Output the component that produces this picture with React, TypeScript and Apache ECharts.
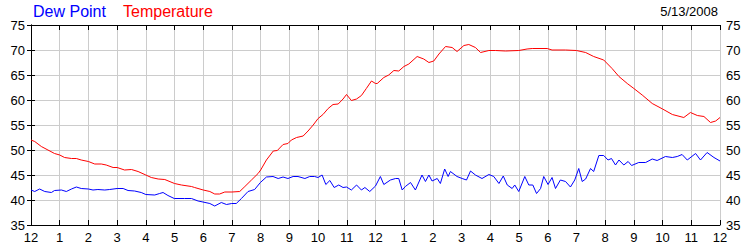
import React, { useEffect, useRef } from "react";
import * as echarts from "echarts";

const tempHours = [0, 0.13, 0.36, 0.59, 0.82, 1.0, 1.17, 1.41, 1.58, 1.75, 2.0, 2.22, 2.45, 2.62, 2.86, 3.0, 3.26, 3.5, 3.73, 4.0, 4.19, 4.43, 4.66, 5.0, 5.24, 5.59, 5.7, 6.0, 6.23, 6.4, 6.57, 6.75, 7.0, 7.27, 7.45, 7.68, 7.91, 8.0, 8.2, 8.44, 8.58, 8.78, 8.95, 9.07, 9.25, 9.48, 9.65, 9.83, 10.0, 10.17, 10.35, 10.52, 10.7, 10.87, 10.99, 11.16, 11.34, 11.51, 11.68, 11.86, 12.0, 12.06, 12.29, 12.46, 12.64, 12.81, 12.99, 13.16, 13.45, 13.68, 13.86, 14.03, 14.21, 14.44, 14.67, 14.84, 15.08, 15.25, 15.48, 15.66, 15.95, 16.18, 16.53, 16.99, 17.28, 17.46, 17.98, 18.15, 18.62, 19.0, 19.32, 19.6, 19.95, 20.24, 20.48, 20.77, 21.0, 21.29, 21.64, 22.0, 22.34, 22.74, 22.97, 23.21, 23.44, 23.67, 23.85, 24.0];
const tempValues = [52.0, 51.7, 50.7, 50.0, 49.3, 49.0, 48.5, 48.3, 48.3, 48.0, 47.7, 47.2, 47.2, 47.0, 46.5, 46.5, 46.0, 46.1, 45.7, 45.0, 44.5, 44.2, 44.1, 43.3, 43.0, 42.7, 42.5, 42.0, 41.7, 41.2, 41.2, 41.6, 41.6, 41.7, 42.7, 44.0, 45.3, 46.0, 48.0, 49.8, 49.9, 51.1, 51.3, 52.0, 52.5, 52.8, 53.8, 55.0, 56.3, 57.1, 58.3, 59.1, 59.2, 60.2, 61.1, 59.9, 60.2, 60.9, 62.3, 63.8, 63.3, 63.3, 64.5, 65.0, 65.9, 65.8, 66.7, 67.2, 68.7, 68.2, 67.5, 67.8, 69.2, 70.7, 70.5, 69.7, 70.9, 71.1, 70.5, 69.5, 69.9, 69.9, 69.8, 69.9, 70.2, 70.3, 70.3, 70.0, 70.0, 69.9, 69.5, 68.7, 68.0, 66.3, 64.7, 63.3, 62.3, 61.0, 59.3, 58.2, 57.1, 56.5, 57.5, 56.9, 56.7, 55.5, 55.8, 56.5];

const dewHours = [0, 0.13, 0.3, 0.48, 0.71, 0.82, 1.06, 1.23, 1.41, 1.58, 1.75, 2.0, 2.16, 2.33, 2.57, 2.74, 3.0, 3.21, 3.38, 3.61, 3.84, 4.0, 4.31, 4.48, 4.6, 4.77, 4.99, 5.35, 5.59, 5.82, 5.99, 6.23, 6.4, 6.63, 6.81, 6.99, 7.15, 7.33, 7.56, 7.79, 7.99, 8.2, 8.43, 8.61, 8.78, 8.95, 9.13, 9.3, 9.54, 9.71, 9.88, 10.0, 10.14, 10.27, 10.41, 10.56, 10.72, 10.87, 10.99, 11.16, 11.34, 11.51, 11.63, 11.8, 12.0, 12.17, 12.29, 12.52, 12.7, 12.81, 12.93, 13.04, 13.22, 13.39, 13.62, 13.74, 13.86, 13.97, 14.15, 14.26, 14.41, 14.53, 14.61, 14.84, 15.02, 15.17, 15.31, 15.48, 15.71, 15.95, 16.12, 16.3, 16.45, 16.59, 16.76, 16.85, 16.99, 17.2, 17.34, 17.48, 17.61, 17.75, 17.86, 18.01, 18.15, 18.27, 18.44, 18.62, 18.79, 18.94, 19.08, 19.2, 19.32, 19.49, 19.6, 19.78, 19.95, 20.1, 20.22, 20.36, 20.48, 20.65, 20.8, 20.92, 21.17, 21.41, 21.64, 21.81, 22.1, 22.34, 22.51, 22.68, 22.86, 23.15, 23.32, 23.55, 23.79, 24.0];
const dewValues = [42.0, 41.7, 42.2, 41.7, 41.5, 41.9, 42.0, 41.7, 42.2, 42.6, 42.3, 42.2, 42.0, 42.1, 42.0, 42.1, 42.3, 42.3, 41.9, 41.8, 41.5, 41.1, 41.0, 41.3, 41.5, 40.9, 40.3, 40.3, 40.3, 39.8, 39.6, 39.3, 38.8, 39.5, 39.1, 39.3, 39.3, 40.3, 41.7, 42.1, 43.5, 44.6, 44.7, 44.3, 44.6, 44.3, 44.7, 44.7, 44.3, 44.7, 44.7, 44.5, 45.0, 43.1, 43.9, 42.5, 43.0, 42.5, 42.6, 42.0, 43.0, 42.0, 42.5, 41.7, 42.8, 44.7, 43.1, 44.0, 44.3, 44.3, 42.0, 42.7, 43.5, 42.0, 45.0, 43.7, 45.0, 43.8, 44.3, 43.3, 46.2, 44.7, 45.7, 44.7, 44.3, 44.0, 45.8, 45.0, 44.3, 45.1, 44.7, 43.3, 44.8, 43.0, 42.3, 43.0, 41.7, 44.7, 43.0, 43.0, 41.3, 42.3, 44.7, 43.1, 44.5, 42.3, 44.0, 43.7, 42.6, 44.0, 46.3, 43.7, 44.2, 46.3, 45.7, 48.9, 48.9, 48.0, 48.3, 47.0, 48.0, 47.0, 47.7, 46.9, 47.5, 47.5, 48.2, 47.9, 48.7, 48.5, 48.7, 49.1, 48.0, 49.3, 48.0, 49.5, 48.5, 47.8];

const legendNames = ["Dew Point", "Temperature"];
const dateLabel = "5/13/2008";
const yTicks = { min: 35, max: 75, step: 5 };
const xTicks = { min: 0, max: 24, step: 1 };

const FONT = "'Liberation Sans', Arial, sans-serif";

export default function App() {
  const ref = useRef<HTMLDivElement>(null);
  useEffect(() => {
    if (!ref.current) return;
    const chart = echarts.init(ref.current, null, { renderer: "svg" });
    const hourLabel = (v: number) => {
      const h = Math.round(v) % 12;
      return String(h === 0 ? 12 : h);
    };
    const axisLine = { show: true, lineStyle: { color: "#000", width: 1 } };
    const tick = { show: true, inside: true, length: 5, lineStyle: { color: "#000" } };
    const yLabel = { show: true, color: "#000", fontFamily: FONT, fontSize: 13, margin: 6 };
    chart.setOption({
      animation: false,
      backgroundColor: "#fff",
      grid: { left: 31, right: 30, top: 25, bottom: 25, containLabel: false },
      graphic: [
        { type: "text", left: 33, top: 3, style: { text: legendNames[0], fill: "#0000ff", font: `16px ${FONT}` } },
        { type: "text", left: 123, top: 3, style: { text: legendNames[1], fill: "#ff0000", font: `16px ${FONT}` } },
        { type: "text", right: 32, top: 5, style: { text: dateLabel, fill: "#000", font: `13px ${FONT}` } },
      ],
      xAxis: [
        {
          type: "value", position: "bottom", min: xTicks.min, max: xTicks.max, interval: xTicks.step,
          axisLine, axisTick: tick,
          axisLabel: { color: "#000", fontFamily: FONT, fontSize: 13, margin: 6, formatter: hourLabel, showMinLabel: true, showMaxLabel: true },
          splitLine: { show: true, lineStyle: { color: "#cccccc", width: 1 } },
        },
        {
          type: "value", position: "top", min: xTicks.min, max: xTicks.max, interval: xTicks.step,
          axisLine, axisTick: tick, axisLabel: { show: false }, splitLine: { show: false },
        },
      ],
      yAxis: [
        {
          type: "value", position: "left", min: yTicks.min, max: yTicks.max, interval: yTicks.step,
          axisLine, axisTick: { ...tick, length: 4 }, axisLabel: yLabel,
          splitLine: { show: true, lineStyle: { color: "#cccccc", width: 1 } },
        },
        {
          type: "value", position: "right", min: yTicks.min, max: yTicks.max, interval: yTicks.step,
          axisLine, axisTick: { ...tick, length: 4 }, axisLabel: yLabel, splitLine: { show: false },
        },
      ],
      series: [
        {
          name: legendNames[0], type: "line", showSymbol: false, symbol: "none",
          data: dewHours.map((h, i) => [h, dewValues[i]]),
          lineStyle: { color: "#0000ff", width: 1 }, itemStyle: { color: "#0000ff" },
        },
        {
          name: legendNames[1], type: "line", showSymbol: false, symbol: "none",
          data: tempHours.map((h, i) => [h, tempValues[i]]),
          lineStyle: { color: "#ff0000", width: 1 }, itemStyle: { color: "#ff0000" },
        },
      ],
    });
    return () => chart.dispose();
  }, []);
  return <div ref={ref} style={{ position: "absolute", left: 0, top: 0, width: 750, height: 250 }} />;
}
